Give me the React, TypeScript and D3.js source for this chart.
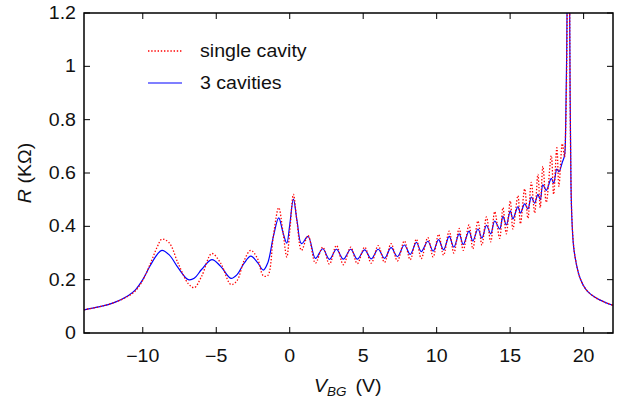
import React from 'react';
import * as d3 from 'd3';

// back-gate voltage (V), shared by both curves
const vbg = [
  -14, -13, -12, -11, -10.5, -10, -9.5, -9, -8.7, -8.2,
  -7.6, -6.9, -6.5, -6, -5.3, -4.7, -4.0, -3.6, -3.1, -2.65,
  -2.2, -1.8, -1.5, -1.1, -0.75, -0.45, -0.2, 0, 0.25, 0.5,
  0.8, 1.25, 1.75, 2.25, 2.7, 3.18, 3.65, 4.15, 4.6, 5.1,
  5.55, 6.02, 6.45, 6.9, 7.33, 7.8, 8.2, 8.62, 8.95, 9.4,
  9.76, 10.13, 10.47, 10.85, 11.17, 11.53, 11.81, 12.2, 12.46, 12.81,
  13.08, 13.39, 13.68, 13.95, 14.29, 14.51, 14.74, 15.01, 15.19, 15.53,
  15.7, 15.99, 16.21, 16.44, 16.67, 16.89, 17.05, 17.23, 17.46, 17.8,
  17.96, 18.18, 18.32, 18.55, 18.7, 18.78, 18.85, 18.92, 18.97, 19.02,
  19.08, 19.14, 19.2, 19.3, 19.4, 19.73, 20.18, 20.86, 21.5, 22,
];

// R (KOhm), single cavity
const singleCavity = [
  0.087, 0.098, 0.113, 0.138, 0.158, 0.198, 0.258, 0.325, 0.352, 0.338,
  0.262, 0.185, 0.17, 0.212, 0.298, 0.262, 0.182, 0.195, 0.272, 0.31,
  0.28, 0.215, 0.215, 0.37, 0.47, 0.375, 0.285, 0.38, 0.52, 0.415,
  0.31, 0.365, 0.262, 0.322, 0.258, 0.328, 0.256, 0.322, 0.26, 0.322,
  0.262, 0.328, 0.265, 0.335, 0.27, 0.345, 0.275, 0.352, 0.279, 0.358,
  0.285, 0.37, 0.292, 0.382, 0.3, 0.392, 0.31, 0.405, 0.316, 0.42,
  0.33, 0.435, 0.342, 0.455, 0.355, 0.47, 0.372, 0.495, 0.39, 0.515,
  0.41, 0.54, 0.43, 0.565, 0.45, 0.595, 0.47, 0.625, 0.49, 0.665,
  0.52, 0.695, 0.55, 0.71, 0.66, 0.77, 1.0, 1.55, 2.2, 1.65,
  0.92, 0.57, 0.435, 0.338, 0.292, 0.21, 0.162, 0.131, 0.114, 0.104,
];

// R (KOhm), 3 cavities
const threeCavities = [
  0.087, 0.098, 0.113, 0.14, 0.162, 0.2, 0.252, 0.296, 0.31, 0.293,
  0.245, 0.2, 0.205, 0.238, 0.275, 0.25, 0.205, 0.218, 0.262, 0.288,
  0.265, 0.236, 0.262, 0.365, 0.432, 0.375, 0.337, 0.405, 0.502, 0.42,
  0.335, 0.362, 0.28, 0.316, 0.276, 0.314, 0.277, 0.314, 0.277, 0.312,
  0.278, 0.314, 0.28, 0.32, 0.286, 0.33, 0.295, 0.34, 0.305, 0.344,
  0.307, 0.35, 0.312, 0.362, 0.322, 0.372, 0.332, 0.382, 0.345, 0.39,
  0.356, 0.404, 0.372, 0.42, 0.39, 0.437, 0.405, 0.458, 0.428, 0.474,
  0.45, 0.484, 0.465, 0.51, 0.487, 0.52, 0.5, 0.556, 0.535, 0.58,
  0.562, 0.615, 0.605, 0.64, 0.665, 0.78, 1.05, 1.6, 2.2, 1.6,
  0.9, 0.56, 0.43, 0.335, 0.29, 0.21, 0.162, 0.131, 0.114, 0.104,
];

const xTicks = [-10, -5, 0, 5, 10, 15, 20];
const yTicks = [0, 0.2, 0.4, 0.6, 0.8, 1, 1.2];

const W = 623;
const H = 400;
const left = 84;
const right = 613;
const top = 13;
const bottom = 333;
const font = '"Liberation Sans", Arial, Helvetica, sans-serif';
const fs = 17.5;
const sx = 1.12; // the original lettering is a little wider than Arial

// text drawn with a slight horizontal stretch
const Label = ({ x, y, anchor = 'start', rotate = 0, children }: any) => (
  <text
    transform={`translate(${x},${y}) rotate(${rotate}) scale(${sx},1)`}
    fontSize={fs}
    textAnchor={anchor}
    fill="#111"
  >
    {children}
  </text>
);

export default function App() {
  const x = d3.scaleLinear().domain([-14, 22]).range([left, right]);
  const y = d3.scaleLinear().domain([0, 1.2]).range([bottom, top]);

  const line = d3
    .line<number>()
    .x((_, i) => x(vbg[i]))
    .y((d) => y(d))
    .curve(d3.curveCatmullRom.alpha(0.5));

  const fmtX = (v: number) => (v < 0 ? '\u2212' + Math.abs(v) : String(v));
  const tick = 6;

  return (
    <svg
      width={W}
      height={H}
      style={{ position: 'absolute', left: 0, top: 0, background: '#fff' }}
      fontFamily={font}
    >
      <defs>
        <clipPath id="plot">
          <rect x={left} y={top} width={right - left} height={bottom - top} />
        </clipPath>
      </defs>

      <g clipPath="url(#plot)">
        <path d={line(threeCavities) || ''} fill="none" stroke="#0000ff" strokeWidth={1.2} />
        <path
          d={line(singleCavity) || ''}
          fill="none"
          stroke="#ff0000"
          strokeWidth={1.3}
          strokeDasharray="1.4 1.8"
        />
      </g>

      {/* ticks, mirrored on all four sides */}
      {xTicks.map((t) => (
        <g key={'x' + t}>
          <line x1={x(t)} x2={x(t)} y1={bottom} y2={bottom - tick} stroke="#000" />
          <line x1={x(t)} x2={x(t)} y1={top} y2={top + tick} stroke="#000" />
          <Label x={x(t)} y={362} anchor="middle">
            {fmtX(t)}
          </Label>
        </g>
      ))}
      {yTicks.map((t) => (
        <g key={'y' + t}>
          <line x1={left} x2={left + tick} y1={y(t)} y2={y(t)} stroke="#000" />
          <line x1={right} x2={right - tick} y1={y(t)} y2={y(t)} stroke="#000" />
          <Label x={76} y={y(t) + 6} anchor="end">
            {String(t)}
          </Label>
        </g>
      ))}

      <rect
        x={left}
        y={top}
        width={right - left}
        height={bottom - top}
        fill="none"
        stroke="#000"
        strokeWidth={1.5}
      />

      {/* axis titles */}
      <Label x={314} y={392}>
        <tspan fontStyle="italic">V</tspan>
        <tspan fontStyle="italic" fontSize={12} dy={4}>BG</tspan>
        <tspan dy={-4} dx={8}>(V)</tspan>
      </Label>
      <Label x={31} y={173} anchor="middle" rotate={-90}>
        <tspan fontStyle="italic">R</tspan> (K{'\u03a9'})
      </Label>

      {/* legend */}
      <line x1={148} x2={182} y1={51} y2={51} stroke="#ff0000" strokeWidth={1.3} strokeDasharray="1.4 1.8" />
      <Label x={200} y={57}>single cavity</Label>
      <line x1={148} x2={182} y1={83} y2={83} stroke="#0000ff" strokeWidth={1.2} />
      <Label x={200} y={89}>3 cavities</Label>
    </svg>
  );
}
